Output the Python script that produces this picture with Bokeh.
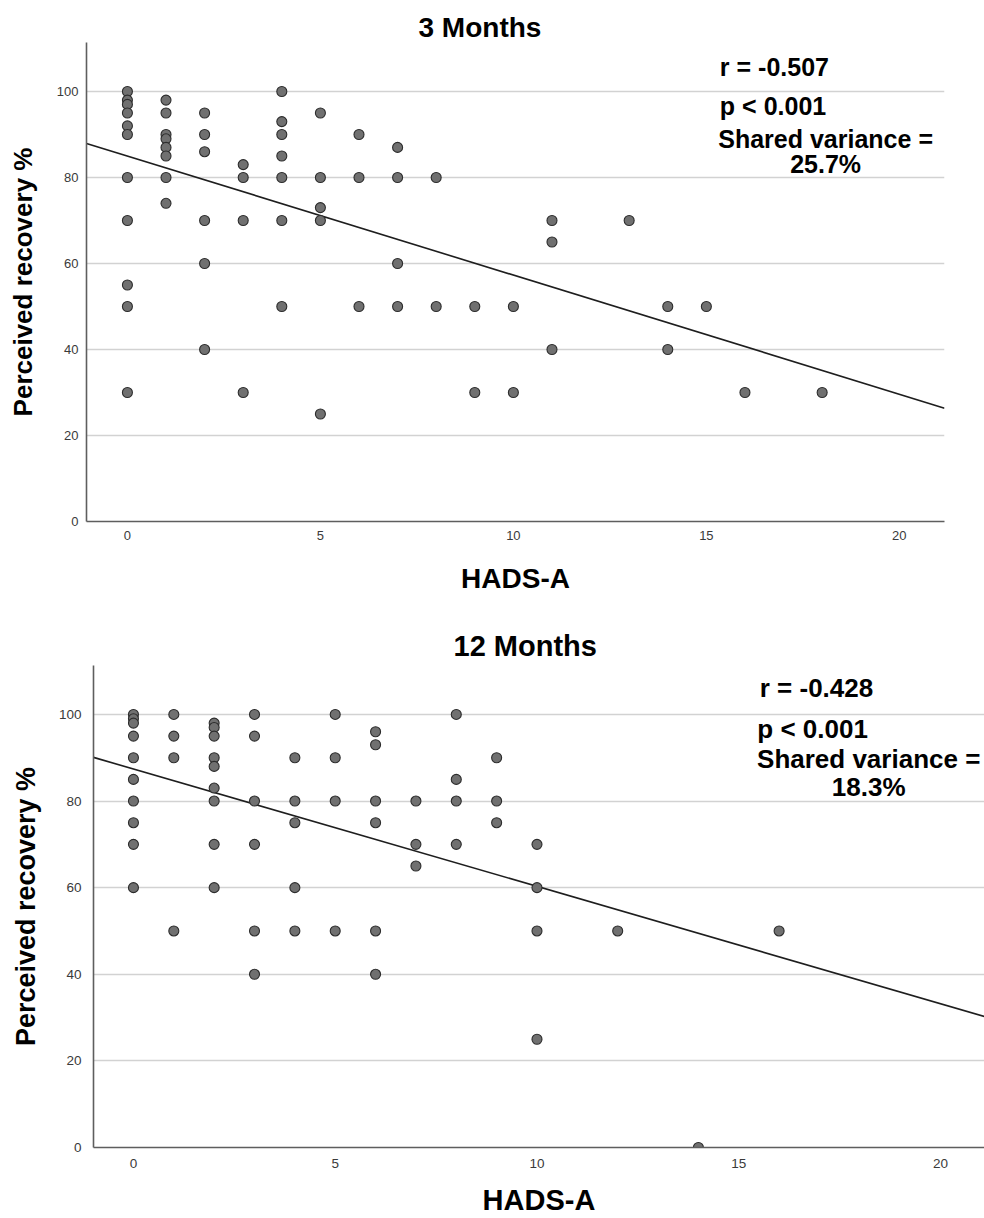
from bokeh.plotting import figure
from bokeh.layouts import column
from bokeh.models import Range1d, FixedTicker, Label, Title
from bokeh.embed import file_html
from bokeh.resources import INLINE

# ---------------- data ----------------
titles = ["3 Months", "12 Months"]

hads_3m = [0, 0, 0, 0, 0, 0, 0, 0, 0, 0, 0,
           1, 1, 1, 1, 1, 1, 1, 1,
           2, 2, 2, 2, 2, 2,
           3, 3, 3, 3,
           4, 4, 4, 4, 4, 4, 4,
           5, 5, 5, 5, 5,
           6, 6, 6,
           7, 7, 7, 7,
           8, 8,
           9, 9,
           10, 10,
           11, 11, 11,
           13,
           14, 14,
           15,
           16,
           18]
recovery_3m = [100, 98, 97, 95, 92, 90, 80, 70, 55, 50, 30,
               98, 95, 90, 89, 87, 85, 80, 74,
               95, 90, 86, 70, 60, 40,
               83, 80, 70, 30,
               100, 93, 90, 85, 80, 70, 50,
               95, 80, 73, 70, 25,
               90, 80, 50,
               87, 80, 60, 50,
               80, 50,
               50, 30,
               50, 30,
               70, 65, 40,
               70,
               50, 40,
               50,
               30,
               30]

hads_12m = [0, 0, 0, 0, 0, 0, 0, 0, 0, 0,
            1, 1, 1, 1,
            2, 2, 2, 2, 2, 2, 2, 2, 2,
            3, 3, 3, 3, 3, 3,
            4, 4, 4, 4, 4,
            5, 5, 5, 5,
            6, 6, 6, 6, 6, 6,
            7, 7, 7,
            8, 8, 8, 8,
            9, 9, 9,
            10, 10, 10, 10,
            12,
            14,
            16]
recovery_12m = [100, 99, 98, 95, 90, 85, 80, 75, 70, 60,
                100, 95, 90, 50,
                98, 97, 95, 90, 88, 83, 80, 70, 60,
                100, 95, 80, 70, 50, 40,
                90, 80, 75, 60, 50,
                100, 90, 80, 50,
                96, 93, 80, 75, 50, 40,
                80, 70, 65,
                100, 85, 80, 70,
                90, 80, 75,
                70, 60, 50, 25,
                50,
                0,
                50]

# fit line (intercept, slope)
fit_3m = (85.0, -2.77)
fit_12m = (87.4, -2.71)

stats_3m = ["r = -0.507", "p < 0.001", "Shared variance =", "25.7%"]
stats_12m = ["r = -0.428", "p < 0.001", "Shared variance =", "18.3%"]

x_ticks = [0, 5, 10, 15, 20]
y_ticks = [0, 20, 40, 60, 80, 100]

x_label = "HADS-A"
y_label = "Perceived recovery %"

FONT = "Liberation Sans"


def panel(title, hads, rec, fit, stats, *, width, height, xr, yr, borders,
          title_offset, title_size, title_standoff, lab_size, ylab_size,
          tick_size, xtick_standoff, ytick_standoff, xlab_standoff, ylab_standoff,
          stat_size, stat_pos):
    bl, br, bt, bb = borders
    p = figure(width=width, height=height, output_backend="svg",
               toolbar_location=None, x_range=Range1d(*xr), y_range=Range1d(*yr),
               min_border_left=bl, min_border_right=br,
               min_border_top=bt, min_border_bottom=bb,
               background_fill_color="white", border_fill_color="white")
    p.frame_align = False
    p.outline_line_color = None
    p.title = Title(text=title, align="left", offset=title_offset,
                    text_font=FONT, text_font_size=title_size,
                    text_font_style="bold", text_color="black",
                    standoff=title_standoff)

    p.xgrid.visible = False
    p.ygrid.ticker = FixedTicker(ticks=y_ticks[1:])
    p.ygrid.grid_line_color = "#d2d2d2"
    p.ygrid.grid_line_width = 1.6

    for ax in (p.xaxis[0], p.yaxis[0]):
        ax.axis_line_color = "#5e5e5e"
        ax.axis_line_width = 1.6
        ax.major_tick_line_color = None
        ax.minor_tick_line_color = None
        ax.major_tick_out = 0
        ax.major_tick_in = 0
        ax.minor_tick_out = 0
        ax.major_label_text_font = FONT
        ax.major_label_text_font_size = tick_size
        ax.major_label_text_color = "#3a3a3a"
        ax.axis_label_text_font = FONT
        ax.axis_label_text_font_style = "bold"
        ax.axis_label_text_color = "black"
        ax.axis_label_text_line_height = 1.0

    p.xaxis.ticker = FixedTicker(ticks=x_ticks)
    p.yaxis.ticker = FixedTicker(ticks=y_ticks)
    p.xaxis.axis_label = x_label
    p.yaxis.axis_label = y_label
    p.xaxis.axis_label_text_font_size = lab_size
    p.yaxis.axis_label_text_font_size = ylab_size
    p.xaxis.major_label_standoff = xtick_standoff
    p.yaxis.major_label_standoff = ytick_standoff
    p.xaxis.axis_label_standoff = xlab_standoff
    p.yaxis.axis_label_standoff = ylab_standoff

    # regression line across the full x range
    b0, b1 = fit
    lx = [xr[0], xr[1]]
    ly = [b0 + b1 * v for v in lx]
    p.line(lx, ly, line_color="#1e1e1e", line_width=1.6)

    p.scatter(hads, rec, size=10, fill_color="#707070", line_color="#2c2c2c",
              line_width=1.1)

    for txt, (x, y, align) in zip(stats, stat_pos):
        p.add_layout(Label(x=x, y=y, text=txt, text_align=align,
                           text_baseline="middle", text_font=FONT,
                           text_font_size=stat_size, text_font_style="bold",
                           text_color="black"))
    return p


top = panel(titles[0], hads_3m, recovery_3m, fit_3m, stats_3m,
            width=984, height=600, xr=(-1.06, 21.17), yr=(0, 111.4),
            borders=(86, 40, 42, 79),
            title_offset=332, title_size="28px", title_standoff=0,
            lab_size="28px", ylab_size="26px", tick_size="13px",
            xtick_standoff=9, ytick_standoff=8, xlab_standoff=20, ylab_standoff=16,
            stat_size="25px",
            stat_pos=[(15.35, 105.8, "left"), (15.35, 96.7, "left"),
                      (18.09, 88.9, "center"), (18.09, 83.1, "center")])

bottom = panel(titles[1], hads_12m, recovery_12m, fit_12m, stats_12m,
               width=984, height=618, xr=(-0.99, 21.09), yr=(0, 111.3),
               borders=(93, 0, 65, 71),
               title_offset=360, title_size="29px", title_standoff=8,
               lab_size="29px", ylab_size="27px", tick_size="13.5px",
               xtick_standoff=11, ytick_standoff=12, xlab_standoff=13, ylab_standoff=15,
               stat_size="26px",
               stat_pos=[(15.52, 106.1, "left"), (15.46, 96.6, "left"),
                         (18.22, 89.6, "center"), (18.22, 83.3, "center")])

layout = column(top, bottom, spacing=0)

with open("out.html", "w") as f:
    f.write(file_html(layout, INLINE))
